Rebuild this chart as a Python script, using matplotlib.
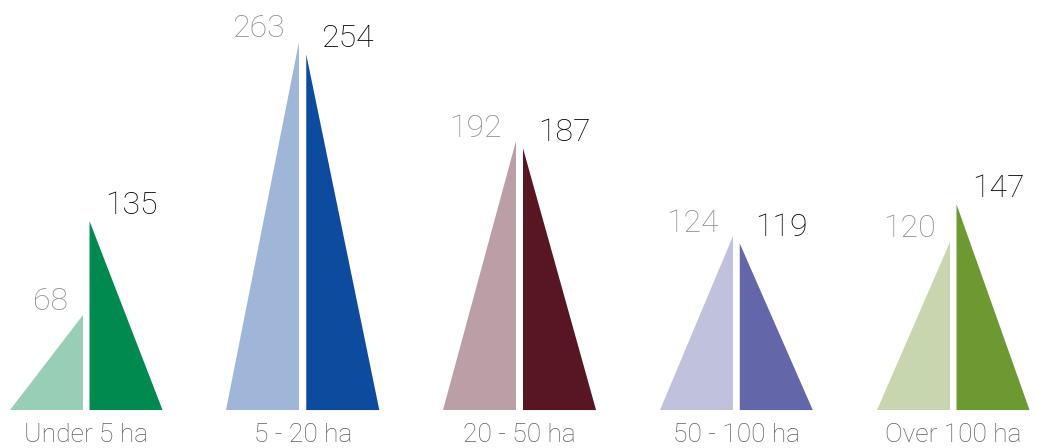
import numpy as np
import matplotlib.pyplot as plt

categories = ["Under 5 ha", "5 - 20 ha", "20 - 50 ha", "50 - 100 ha", "Over 100 ha"]
before_vals = [68, 263, 192, 124, 120]
after_vals = [135, 254, 187, 119, 147]
light_colors = ["#98ceb6", "#a0b6d9", "#bc9fa6", "#c0c1dd", "#c7d6af"]
dark_colors = ["#008a50", "#0d4b9e", "#581522", "#6366a9", "#6d9933"]

plt.rcParams['font.family'] = ['Roboto', 'DejaVu Sans']

fig = plt.figure(figsize=(10.38, 4.48), dpi=100)
ax = fig.add_axes([0, 0, 1, 1])
ax.set_xlim(-0.397, 4.392)
ax.set_ylim(-27.1, 292.9)
ax.axis("off")

w = 0.337   # triangle width (group units)
g = 0.016   # half gap between the pair

for i, cat in enumerate(categories):
    b, a = before_vals[i], after_vals[i]
    # left triangle: vertical edge on the right
    ax.fill([i - g - w, i - g, i - g], [0, 0, b], color=light_colors[i], lw=0)
    # right triangle: vertical edge on the left
    ax.fill([i + g, i + g + w, i + g], [0, 0, a], color=dark_colors[i], lw=0)

    ax.text(i - g - 0.065, b - 1, str(b), ha="right", va="bottom",
            fontsize=23, color="#8e8e8e", fontweight="light")
    ax.text(i + g + 0.07, a + 1, str(a), ha="left", va="bottom",
            fontsize=23, color="black", fontweight="light")
    ax.text(i, -9, cat, ha="center", va="top", fontsize=19,
            color="#5e5e5e", fontweight="light")

fig.savefig("out.png", dpi=100)
